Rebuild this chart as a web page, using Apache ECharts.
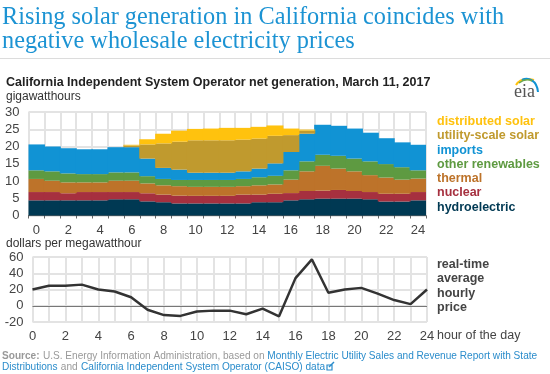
<!DOCTYPE html>
<html>
<head>
<meta charset="utf-8">
<style>
html,body{margin:0;padding:0;background:#fff;}
#chart{width:550px;height:374px;}
</style>
<script src="https://cdn.jsdelivr.net/npm/echarts@6/dist/echarts.min.js"></script>
</head>
<body>
<div id="chart"></div>
<script>
var hours = ['0','1','2','3','4','5','6','7','8','9','10','11','12','13','14','15','16','17','18','19','20','21','22','23','24'];
var hydroelectric = [4.4,4.4,4.4,4.4,4.4,4.7,4.7,4.1,3.85,3.5,3.5,3.5,3.5,3.5,3.85,3.85,4.4,4.7,4.9,4.9,4.9,4.7,4.05,4.05,4.4];
var nuclear = [2.4,2.4,2.05,2.4,2.4,2.1,2.1,2.35,2.2,2.25,2.2,2.2,2.2,2.55,2.2,2.45,2.1,2.4,2.3,2.5,2.2,2.1,2.25,2.25,2.4];
var thermal = [3.8,3.3,3.15,2.8,2.8,3.3,3.3,2.85,2.7,2.75,2.6,2.6,2.6,2.45,2.7,2.7,3.9,5.7,7.2,6.2,5.7,4.9,4.7,4.1,3.9];
var renewables = [2.5,2.7,2.6,2.4,2.4,2.4,2.4,2.1,1.85,1.8,2,2,2,2.1,2.35,2.5,2.7,2.9,3.2,3.7,3.7,4,3.9,3.6,2.4];
var imports = [7.5,7.2,7.3,7.2,7.2,7.3,7.3,5.1,3.2,3,2.1,2.1,2.1,2.2,2.5,3.6,5.3,8,8.7,8.7,8.7,8.3,7.5,7.2,7.4];
var utilitySolar = [0,0,0,0,0,0,0.5,4.1,7.1,8.1,9.4,9.4,9.4,9.2,8.7,8,4.9,0.9,0,0,0,0,0,0,0];
var distributedSolar = [0,0,0,0,0,0,0.2,1.5,2.8,3.2,3.3,3.4,3.6,3.4,3.4,3,1.9,0.3,0,0,0,0,0,0,0];
var price = [20,24.5,24.5,26,20,17.5,10.5,-5,-11.5,-12.5,-7,-6,-6,-10.5,-3.5,-13,34,57,16,20,22,15,7,2,20];

var legendNames = ['distributed solar','utility-scale solar','imports','other renewables','thermal','nuclear','hydroelectric'];
var legendColors = ['#ffc20e','#c09a2e','#1193d4','#5e9a41','#bd732a','#a6303f','#003953'];
var priceLabel = ['real-time','average','hourly','price'];

var sans = '"Liberation Sans", Arial, sans-serif';
var gridColor = '#e3e3e3';

function stackBar(name, data, color){
	return {
		name: name,
		type: 'bar',
		stack: 'gen',
		data: data,
		// a bit wider than the 15.9px band so the hourly bars leave no seams
		barWidth: 17,
		itemStyle: {color: color},
		silent: true
	};
}

var graphic = [
	{type:'text', left:2, top:6, style:{text:'Rising solar generation in California coincides with', font:'24.3px "Liberation Serif", serif', fill:'#1c93d3'}},
	{type:'text', left:2, top:30, style:{text:'negative wholesale electricity prices', font:'24.3px "Liberation Serif", serif', fill:'#1c93d3'}},
	{type:'rect', shape:{x:0, y:58, width:550, height:1}, style:{fill:'#dcdcdc'}},
	{type:'text', left:6, top:76, style:{text:'California Independent System Operator net generation, March 11, 2017', font:'bold 12.5px '+sans, fill:'#222'}},
	{type:'text', left:6, top:91, style:{text:'gigawatthours', font:'12px '+sans, fill:'#333'}},
	{type:'text', left:6, top:238, style:{text:'dollars per megawatthour', font:'12px '+sans, fill:'#333'}},
	{type:'text', left:437, top:329, style:{text:'hour of the day', font:'12.5px '+sans, fill:'#444'}},
	{type:'text', left:2, top:350, style:{
		text:'{g|Source:} {l|U.S. Energy Information Administration, based on }{b|Monthly Electric Utility Sales and Revenue Report with State}',
		rich:{g:{font:'bold 10.1px '+sans, fill:'#999'}, l:{font:'10.1px '+sans, fill:'#999'}, b:{font:'10.1px '+sans, fill:'#2a8ccb'}}
	}},
	{type:'text', left:2, top:361, style:{
		text:'{b|Distributions} {l|and} {b|California Independent System Operator (CAISO) data}',
		rich:{l:{font:'10.1px '+sans, fill:'#999'}, b:{font:'10.1px '+sans, fill:'#2a8ccb'}}
	}},
	{type:'rect', shape:{x:327, y:365, width:5, height:5}, style:{fill:'none', stroke:'#2a8ccb', lineWidth:1.2}},
	{type:'line', shape:{x1:329, y1:367, x2:334, y2:362}, style:{stroke:'#2a8ccb', lineWidth:1.5}},
	// eia logo
	{type:'text', left:514, top:83, style:{text:'eia', font:'18px "Liberation Serif", serif', fill:'#555'}},
	{type:'bezierCurve', shape:{x1:516, y1:85, x2:534, y2:80, cpx1:520, cpy1:78, cpx2:527, cpy2:78}, style:{stroke:'#ffc20e', fill:'none', lineWidth:2}},
	{type:'bezierCurve', shape:{x1:522, y1:80, x2:538, y2:92, cpx1:528, cpy1:77, cpx2:537, cpy2:80}, style:{stroke:'#1193d4', fill:'none', lineWidth:2}},
	{type:'bezierCurve', shape:{x1:519, y1:83, x2:532, y2:81, cpx1:523, cpy1:80, cpx2:528, cpy2:79}, style:{stroke:'#6aa84f', fill:'none', lineWidth:1.5}}
];

legendNames.forEach(function(name, i){
	graphic.push({type:'text', left:437, top:115 + i*14.3, style:{text:name, font:'bold 12.5px '+sans, fill:legendColors[i]}});
});
priceLabel.forEach(function(name, i){
	graphic.push({type:'text', left:437, top:258 + i*14.4, style:{text:name, font:'bold 12.5px '+sans, fill:'#444'}});
});

var chart = echarts.init(document.getElementById('chart'));

var option = {
	animation: false,
	textStyle: {fontFamily: sans},
	graphic: graphic,
	grid: [
		{left:28.5, top:112, width:397.5, height:103.5},
		{left:32.5, top:257, width:394.5, height:65}
	],
	xAxis: [
		{
			type:'category', gridIndex:0, data:hours,
			axisLine:{lineStyle:{color:'#666'}},
			axisTick:{show:true, interval:0, length:3, lineStyle:{color:'#666'}},
			axisLabel:{interval:1, color:'#444', fontSize:13, margin:8},
			splitLine:{show:true, interval:0, lineStyle:{color:gridColor, width:2}}
		},
		{
			type:'category', gridIndex:1, data:hours, boundaryGap:false,
			axisLine:{show:false, onZero:false},
			axisTick:{show:false},
			axisLabel:{interval:1, color:'#444', fontSize:13, margin:8},
			splitLine:{show:true, interval:0, lineStyle:{color:gridColor, width:2}}
		}
	],
	yAxis: [
		{
			type:'value', gridIndex:0, min:0, max:30, interval:5,
			axisLine:{show:false}, axisTick:{show:false},
			axisLabel:{color:'#444', fontSize:13, margin:9},
			splitLine:{show:true, lineStyle:{color:gridColor, width:2}}
		},
		{
			type:'value', gridIndex:1, min:-20, max:60, interval:20,
			axisLine:{show:false}, axisTick:{show:false},
			axisLabel:{color:'#444', fontSize:13, margin:9},
			splitLine:{show:true, lineStyle:{color:gridColor, width:2}}
		}
	],
	series: [
		stackBar('hydroelectric', hydroelectric, legendColors[6]),
		stackBar('nuclear', nuclear, legendColors[5]),
		stackBar('thermal', thermal, legendColors[4]),
		stackBar('other renewables', renewables, legendColors[3]),
		stackBar('imports', imports, legendColors[2]),
		stackBar('utility-scale solar', utilitySolar, legendColors[1]),
		stackBar('distributed solar', distributedSolar, legendColors[0]),
		{
			name:'price', type:'line', xAxisIndex:1, yAxisIndex:1, data:price,
			symbol:'none', silent:true,
			lineStyle:{color:'#333', width:2.5},
			markLine:{
				silent:true, symbol:'none', label:{show:false}, z:1,
				lineStyle:{color:'#777', width:1, type:'solid'},
				data:[{yAxis:0}]
			}
		}
	]
};

chart.setOption(option);
</script>
</body>
</html>
